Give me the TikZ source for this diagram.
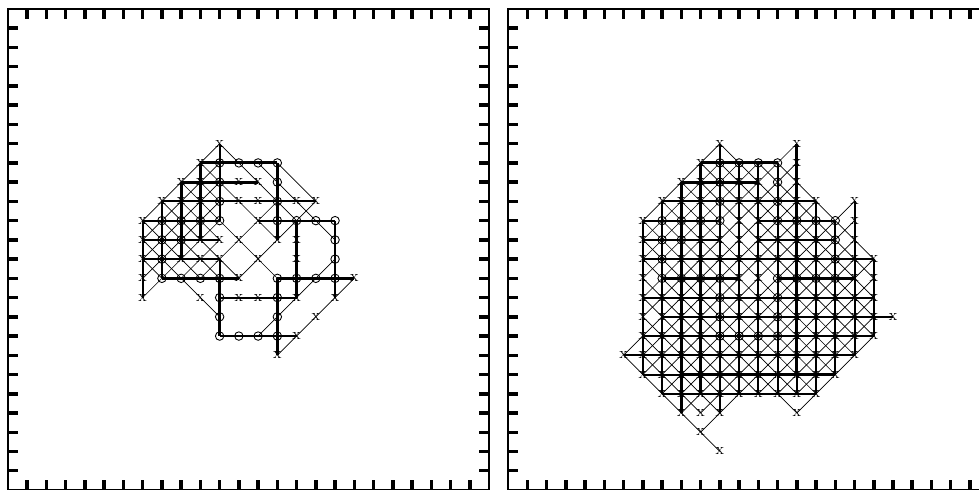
\documentclass[tikz,border=0pt]{standalone}
\begin{document}
\begin{tikzpicture}[x=0.5cm,y=-0.5cm,
 frame/.style={line width=1.6pt},
 tickm/.style={line width=2.6pt},
 thk/.style={line width=2.3pt},
 med/.style={line width=1.45pt},
 thn/.style={line width=0.5pt},
 xm/.style={font=\fontsize{12}{12}\selectfont, inner sep=0pt},
 om/.style={line width=0.65pt}]
\useasboundingbox (-0.416,-0.468) rectangle (50.47,24.95);
% frames and ticks
\foreach \o in {0,26}{
 \draw[frame] (\o,0) rectangle (\o+25,25);
 \foreach \k in {1,...,24}{
  \draw[tickm] (\o+\k,0) -- (\o+\k,0.52);
  \draw[tickm] (\o+\k,25) -- (\o+\k,24.48);
  \draw[tickm] (\o,\k) -- (\o+0.52,\k);
  \draw[tickm] (\o+25,\k) -- (\o+24.48,\k);
 }
}
% positions of the o markers (same in both panels)
\foreach \u/\v in {11/8,12/8,13/8,14/8, 11/9,14/9, 11/10,14/10, 8/11,9/11,10/11,11/11,14/11,15/11,16/11,17/11,
  8/12,9/12,17/12, 8/13,17/13, 8/14,9/14,10/14,11/14,14/14,15/14,16/14,17/14,
  11/15,14/15, 11/16,14/16, 11/17,12/17,13/17,14/17}
  {\expandafter\xdef\csname isO-\u-\v\endcsname{1}}
% ---------- left panel ----------
\begin{scope}
\foreach \rj/\ra in {8/10, 9/9, 10/8, 11/7, 12/7, 13/7}
  \foreach \i in {\ra,...,10}{
    \draw[thn] (\i,\rj) -- (\i+1,\rj+1); \draw[thn] (\i+1,\rj) -- (\i,\rj+1);}
\foreach \pa/\pb/\pc/\pd in {7/11/11/7, 7/15/8/14, 9/14/11/16, 11/7/15/11, 11/9/14/12, 11/11/14/14,
  11/13/12/14, 13/8/17/12, 14/8/16/10, 11/13/14/10, 12/14/16/10, 13/17/17/13, 14/18/18/14}
  \draw[thn] (\pa,\pb) -- (\pc,\pd);
\foreach \rj/\ra/\rb in {8/10/14, 9/9/13, 14/8/12, 14/14/18} \draw[thk] (\ra,\rj) -- (\rb,\rj);
\foreach \rj/\ra/\rb in {10/8/16, 11/7/11, 11/13/17, 12/7/11, 13/7/11, 15/11/15, 17/11/15} \draw[med] (\ra,\rj) -- (\rb,\rj);
\foreach \i/\ra/\rb in {9/9/13, 10/8/12, 14/8/12, 14/14/18, 15/11/15, 11/14/17} \draw[thk] (\i,\ra) -- (\i,\rb);
\foreach \i/\ra/\rb in {7/11/15, 8/10/14, 11/7/11, 11/13/14, 17/11/15} \draw[med] (\i,\ra) -- (\i,\rb);
\foreach \u/\v in {11/7, 10/8, 9/9,10/9,12/9,13/9, 8/10,9/10,10/10,12/10,13/10,15/10,16/10,
  7/11,13/11, 7/12,10/12,11/12,12/12,14/12,15/12, 7/13,9/13,10/13,11/13,13/13,15/13,
  7/14,12/14,18/14, 7/15,10/15,12/15,13/15,15/15,17/15, 16/16, 15/17, 14/18}
  \node[xm] at (\u,\v) {x};
\foreach \u/\v in {11/8,12/8,13/8,14/8, 11/9,14/9, 11/10,14/10, 8/11,9/11,10/11,11/11,14/11,15/11,16/11,17/11,
  8/12,9/12,17/12, 8/13,17/13, 8/14,9/14,10/14,11/14,14/14,15/14,16/14,17/14,
  11/15,14/15, 11/16,14/16, 11/17,12/17,13/17,14/17}
  \draw[om] (\u,\v) circle (0.22);
\end{scope}
% ---------- right panel ----------
\begin{scope}[xshift=13cm]
\foreach \rj/\da/\db/\sa/\sb in {8/10/14/9/14, 9/9/15/8/14, 10/8/16/7/15, 11/7/17/7/17, 12/7/18/7/17,
   13/7/18/7/18, 14/7/18/7/18, 15/7/18/7/18, 16/7/18/7/18, 17/7/17/6/18, 18/6/16/7/17, 19/7/15/8/16}{
  \foreach \i in {\da,...,\db} \draw[thn] (\i,\rj) -- (\i+1,\rj+1);
  \foreach \i in {\sa,...,\sb} \draw[thn] (\i+1,\rj) -- (\i,\rj+1);}
\foreach \pa/\pb/\pc/\pd in {11/7/12/8, 11/7/10/8, 15/7/14/8, 18/10/17/11, 8/20/9/21, 9/20/10/21, 10/20/11/21,
  14/20/15/21, 10/20/9/21, 11/20/10/21, 12/20/11/21, 16/20/15/21, 9/21/10/22, 11/21/10/22, 10/22/11/23}
  \draw[thn] (\pa,\pb) -- (\pc,\pd);
\foreach \rj/\ra/\rb in {10/8/16, 11/7/11, 11/13/17, 12/7/11, 12/13/17, 13/7/19, 15/7/19, 16/8/20, 17/7/19, 18/6/18, 19/7/9, 20/8/16}
  \draw[med] (\ra,\rj) -- (\rb,\rj);
\foreach \i/\ra/\rb in {7/11/19, 8/10/20, 11/7/21, 12/8/20, 13/8/20, 14/8/20, 15/19/20, 16/10/20, 17/11/19, 18/10/18, 19/13/17}
  \draw[med] (\i,\ra) -- (\i,\rb);
\foreach \rj/\ra/\rb in {8/10/14, 9/9/13, 14/8/12, 14/14/18, 19/9/17} \draw[thk] (\ra,\rj) -- (\rb,\rj);
\foreach \i/\ra/\rb in {9/9/21, 10/8/20, 15/7/19} \draw[thk] (\i,\ra) -- (\i,\rb);
\foreach \rj/\ra/\rb in {8/10/15, 9/9/15, 10/8/16, 11/7/18, 12/7/18, 13/7/19, 14/7/19, 15/7/19, 16/7/20, 17/7/19, 18/6/18, 19/7/17, 20/8/16}
  \foreach \i in {\ra,...,\rb}{
    \ifcsname isO-\i-\rj\endcsname \draw[om] (\i,\rj) circle (0.22);
    \else \node[xm] at (\i,\rj) {x};\fi}
\foreach \u/\v in {11/7,15/7,18/10,9/21,10/21,11/21,15/21,10/22,11/23}
  \node[xm] at (\u,\v) {x};
\end{scope}
\end{tikzpicture}
\end{document}
